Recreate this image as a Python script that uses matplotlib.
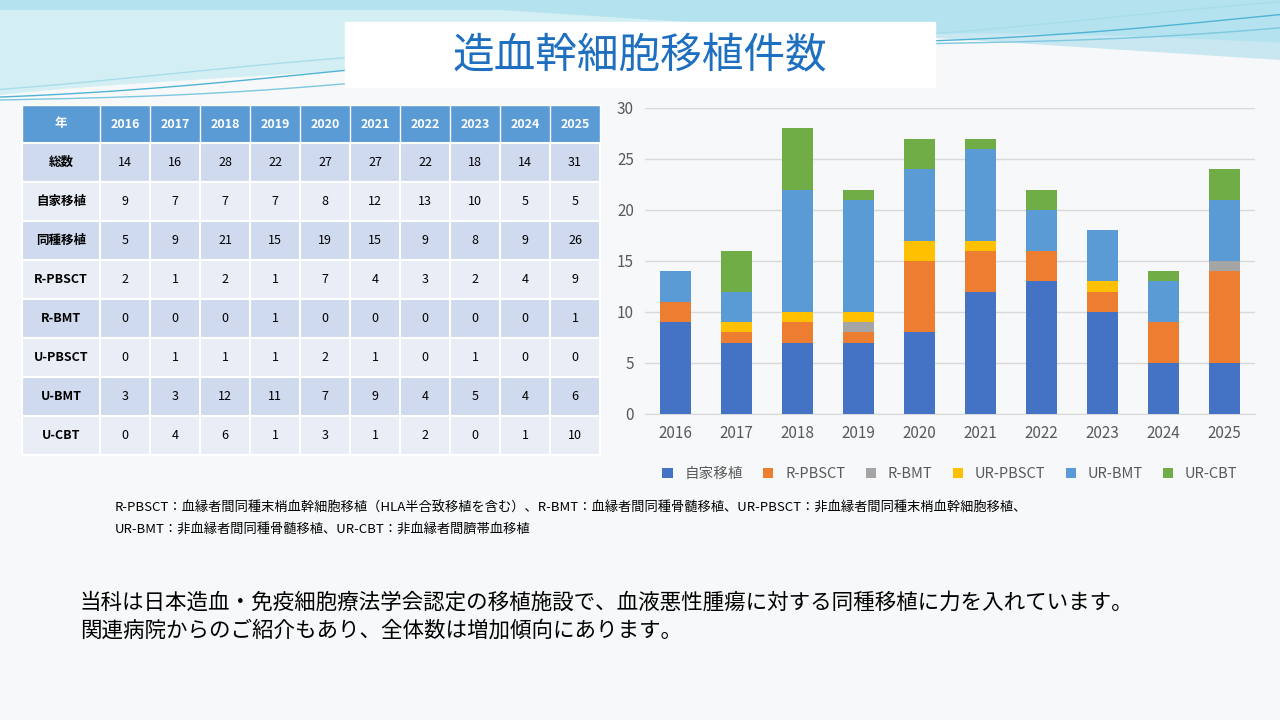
import numpy as np
import matplotlib.pyplot as plt
from matplotlib.patches import Rectangle

plt.rcParams['font.family'] = ['Noto Sans CJK JP', 'DejaVu Sans']

years = ['2016', '2017', '2018', '2019', '2020', '2021', '2022', '2023', '2024', '2025']
row_labels = ['総数', '自家移植', '同種移植', 'R-PBSCT', 'R-BMT', 'U-PBSCT', 'U-BMT', 'U-CBT']
table_rows = [
    [14, 16, 28, 22, 27, 27, 22, 18, 14, 31],
    [9, 7, 7, 7, 8, 12, 13, 10, 5, 5],
    [5, 9, 21, 15, 19, 15, 9, 8, 9, 26],
    [2, 1, 2, 1, 7, 4, 3, 2, 4, 9],
    [0, 0, 0, 1, 0, 0, 0, 0, 0, 1],
    [0, 1, 1, 1, 2, 1, 0, 1, 0, 0],
    [3, 3, 12, 11, 7, 9, 4, 5, 4, 6],
    [0, 4, 6, 1, 3, 1, 2, 0, 1, 10],
]

series_names = ['自家移植', 'R-PBSCT', 'R-BMT', 'UR-PBSCT', 'UR-BMT', 'UR-CBT']
series_colors = ['#4472C4', '#ED7D31', '#A5A5A5', '#FFC000', '#5B9BD5', '#70AD47']
auto = [9, 7, 7, 7, 8, 12, 13, 10, 5, 5]
r_pbsct = [2, 1, 2, 1, 7, 4, 3, 2, 4, 9]
r_bmt = [0, 0, 0, 1, 0, 0, 0, 0, 0, 1]
ur_pbsct = [0, 1, 1, 1, 2, 1, 0, 1, 0, 0]
ur_bmt = [3, 3, 12, 11, 7, 9, 4, 5, 4, 6]
ur_cbt = [0, 4, 6, 1, 3, 1, 2, 0, 1, 3]
series = [auto, r_pbsct, r_bmt, ur_pbsct, ur_bmt, ur_cbt]

W, H = 1280, 720
fig = plt.figure(figsize=(12.8, 7.2), dpi=100)
fig.patch.set_facecolor('#F7F8F9')

# decorative waves at the top
bg = fig.add_axes([0, 0, 1, 1])
bg.set_xlim(0, W); bg.set_ylim(H, 0); bg.axis('off')
xs = np.linspace(0, W, 200)
bg.fill_between(xs, 0, 40 + 55 * np.exp(-xs / 350) + 10 * np.sin(xs / 200), color='#BDE9F2', alpha=0.6, lw=0)
bg.fill_between(xs, 0, 10 + 50 * np.clip((xs - 500) / 780, 0, 1), color='#8FD3E8', alpha=0.45, lw=0)
for k, c in enumerate(['#7CC8E0', '#4FB3D6', '#A7DDEB']):
    bg.plot(xs, 100 - 0.06 * xs - 8 * k + 6 * np.sin(xs / 150 + k), color=c, lw=1)
bg.add_patch(Rectangle((345, 22), 590, 65, color='white', zorder=3))
bg.text(640, 56, '造血幹細胞移植件数', ha='center', va='center', fontsize=30, color='#1F6FC0', zorder=4)

# table
x0, colw0, colw = 22, 78, 50
y0, hh, rh = 105, 38, 39
bg.add_patch(Rectangle((x0, y0), colw0 + 10 * colw, hh, color='#5B9BD5', ec='white', lw=1))
bg.text(x0 + colw0 / 2, y0 + hh / 2, '年', ha='center', va='center', fontsize=9, color='white', weight='bold')
for j, y in enumerate(years):
    bg.text(x0 + colw0 + colw * (j + 0.5), y0 + hh / 2, y, ha='center', va='center', fontsize=9, color='white', weight='bold')
    bg.plot([x0 + colw0 + colw * j] * 2, [y0, y0 + hh], color='white', lw=1)
for i, lab in enumerate(row_labels):
    yt = y0 + hh + i * rh
    fc = '#CFDAEE' if i % 2 == 0 else '#E9EDF6'
    bg.add_patch(Rectangle((x0, yt), colw0, rh, fc=fc, ec='white', lw=1.5))
    bg.text(x0 + colw0 / 2, yt + rh / 2, lab, ha='center', va='center', fontsize=9, weight='bold')
    for j, v in enumerate(table_rows[i]):
        bg.add_patch(Rectangle((x0 + colw0 + colw * j, yt), colw, rh, fc=fc, ec='white', lw=1.5))
        bg.text(x0 + colw0 + colw * (j + 0.5), yt + rh / 2, str(v), ha='center', va='center', fontsize=9)

# notes
bg.text(115, 508, 'R-PBSCT：血縁者間同種末梢血幹細胞移植（HLA半合致移植を含む）、R-BMT：血縁者間同種骨髄移植、UR-PBSCT：非血縁者間同種末梢血幹細胞移植、',
        fontsize=9.5, va='center')
bg.text(115, 529, 'UR-BMT：非血縁者間同種骨髄移植、UR-CBT：非血縁者間臍帯血移植', fontsize=9.5, va='center')
bg.text(80, 603, '当科は日本造血・免疫細胞療法学会認定の移植施設で、血液悪性腫瘍に対する同種移植に力を入れています。',
        fontsize=15.5, va='center')
bg.text(80, 631, '関連病院からのご紹介もあり、全体数は増加傾向にあります。', fontsize=15.5, va='center')

# stacked bar chart
ax = fig.add_axes([645 / W, 1 - 414 / H, 610 / W, 306 / H])
ax.set_facecolor('none')
x = np.arange(len(years))
bottom = np.zeros(len(years))
for name, vals, c in zip(series_names, series, series_colors):
    ax.bar(x, vals, 0.5, bottom=bottom, color=c, label=name, zorder=3)
    bottom += np.array(vals)
ax.set_ylim(0, 30)
ax.set_yticks(range(0, 31, 5))
ax.set_xlim(-0.5, len(years) - 0.5)
ax.set_xticks(x, years)
ax.grid(axis='y', color='#D9D9D9', lw=1, zorder=0)
for s in ['top', 'right', 'left']:
    ax.spines[s].set_visible(False)
ax.spines['bottom'].set_color('#D9D9D9')
ax.tick_params(length=0, labelsize=11, colors='#595959', pad=8)
ax.legend(loc='upper center', bbox_to_anchor=(0.5, -0.13), ncol=6, frameon=False,
          fontsize=10.5, handlelength=0.7, handleheight=0.7, columnspacing=1.4, labelcolor='#595959')

fig.savefig('out.png', dpi=100, facecolor=fig.get_facecolor())
